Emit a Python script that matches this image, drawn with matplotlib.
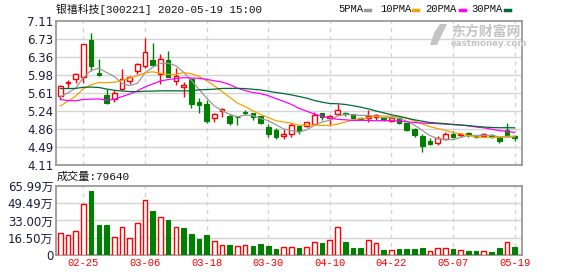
import numpy as np
import pandas as pd
import matplotlib
matplotlib.use('Agg')
import matplotlib.pyplot as plt
from matplotlib.patches import Polygon

# ── Data ──────────────────────────────────────────────────────────
dates = ["02-20", "02-21", "02-24", "02-25", "02-26", "02-27", "02-28",
         "03-02", "03-03", "03-04", "03-05", "03-06", "03-09", "03-10",
         "03-11", "03-12", "03-13", "03-16", "03-17", "03-18", "03-19",
         "03-20", "03-23", "03-24", "03-25", "03-26", "03-27", "03-30",
         "03-31", "04-01", "04-02", "04-03", "04-07", "04-08", "04-09",
         "04-10", "04-13", "04-14", "04-15", "04-16", "04-17", "04-20",
         "04-21", "04-22", "04-23", "04-24", "04-27", "04-28", "04-29",
         "04-30", "05-06", "05-07", "05-08", "05-11", "05-12", "05-13",
         "05-14", "05-15", "05-18", "05-19"]

opens = [5.56, 5.82, 5.90, 5.94, 6.72, 6.04, 5.57, 5.49, 5.69, 5.87,
         6.07, 6.18, 6.30, 6.02, 6.30, 5.86, 5.75, 5.91, 5.42, 5.38,
         5.10, 5.24, 5.14, 5.12, 5.22, 5.19, 5.13, 4.91, 4.84, 4.73,
         4.77, 4.93, 4.92, 4.98, 5.19, 5.10, 5.17, 5.19, 5.17, 5.10,
         5.10, 5.12, 5.09, 5.04, 5.09, 5.00, 4.86, 4.72, 4.61, 4.58,
         4.65, 4.76, 4.74, 4.79, 4.72, 4.72, 4.74, 4.70, 4.84, 4.72]
highs = [5.78, 5.88, 6.03, 6.63, 6.87, 6.32, 5.71, 5.68, 6.11, 5.97,
         6.24, 6.76, 6.66, 6.43, 6.49, 6.14, 5.85, 5.92, 5.52, 5.47,
         5.20, 5.30, 5.17, 5.13, 5.26, 5.20, 5.14, 4.98, 4.88, 4.86,
         4.99, 4.94, 5.02, 5.22, 5.20, 5.16, 5.38, 5.22, 5.18, 5.12,
         5.27, 5.17, 5.11, 5.10, 5.12, 5.00, 4.88, 4.77, 4.68, 4.72,
         4.80, 4.83, 4.78, 4.80, 4.73, 4.78, 4.76, 4.71, 5.00, 4.75]
lows = [5.49, 5.73, 5.82, 5.83, 6.07, 5.97, 5.39, 5.42, 5.68, 5.81,
        6.01, 6.13, 6.18, 5.80, 5.94, 5.78, 5.54, 5.31, 5.19, 5.00,
        5.01, 5.12, 4.95, 4.96, 5.15, 5.06, 4.97, 4.69, 4.66, 4.66,
        4.70, 4.77, 4.91, 4.94, 5.06, 4.92, 5.15, 5.14, 5.08, 5.06,
        5.01, 5.05, 5.04, 5.03, 4.98, 4.82, 4.70, 4.38, 4.53, 4.54,
        4.63, 4.68, 4.69, 4.69, 4.67, 4.69, 4.67, 4.58, 4.70, 4.61]
closes = [5.77, 5.84, 6.02, 6.63, 6.18, 5.99, 5.40, 5.61, 5.91, 5.94,
          6.23, 6.48, 6.20, 6.32, 5.95, 5.98, 5.79, 5.38, 5.37, 5.03,
          5.17, 5.29, 5.00, 5.11, 5.21, 5.12, 5.00, 4.76, 4.69, 4.77,
          4.95, 4.83, 5.01, 5.15, 5.12, 5.13, 5.27, 5.18, 5.10, 5.07,
          5.14, 5.15, 5.06, 5.09, 5.00, 4.84, 4.74, 4.52, 4.55, 4.67,
          4.76, 4.71, 4.77, 4.74, 4.69, 4.77, 4.70, 4.61, 4.72, 4.68]
# closes before the visible window (estimated so the MA lines start right)
pre_closes = [5.85, 5.90, 5.95, 6.05, 6.25, 6.35, 6.40, 6.35, 6.30, 6.30,
              6.20, 6.15, 6.10, 6.00, 5.95, 5.85, 5.30, 4.80, 4.85, 4.90,
              4.85, 4.95, 5.10, 5.35, 5.55, 5.40, 5.55, 5.50, 5.45]
# volume in 万
volumes = [21, 19, 23, 49, 61, 29, 29, 17.5, 26.7, 16.5,
           30.5, 52.7, 41.6, 36.2, 33, 27, 26.3, 20.6, 15.9, 19.7,
           13.7, 9.5, 9.8, 8.9, 9.5, 8.9, 10.8, 9.2, 6.3, 7.9,
           7.9, 7.3, 7.9, 12.4, 11.7, 14.6, 26.7, 12.7, 7.3, 7.3,
           14.3, 11.4, 5.4, 5.1, 6.0, 6.0, 6.0, 7.0, 4.1, 6.7,
           6.7, 6.0, 5.0, 4.1, 4.1, 3.7, 3.2, 7.0, 12.5, 7.964]

price_ticks = [4.11, 4.485, 4.86, 5.235, 5.61, 5.985, 6.36, 6.735, 7.11]
price_labels = ["4.11", "4.49", "4.86", "5.24", "5.61", "5.98", "6.36", "6.73", "7.11"]
vol_ticks = [0, 16.50, 33.00, 49.49, 65.99]
vol_labels = ["0", "16.50万", "33.00万", "49.49万", "65.99万"]
date_ticks = [3, 11, 19, 27, 35, 43, 51, 59]

ma_periods = [5, 10, 20, 30]
ma_colors = ["#999999", "#f5a100", "#ff00ff", "#006a35"]

# ── Derived ───────────────────────────────────────────────────────
n = len(closes)
x = np.arange(n)
o = np.array(opens); c = np.array(closes)
h = np.array(highs); l = np.array(lows)
all_close = pd.Series(pre_closes + closes)
mas = {p: all_close.rolling(p).mean().values[-n:] for p in ma_periods}
prev_close = np.array(all_close.shift(1).values[-n:])
up = c >= o
vol_up = c >= prev_close   # volume colour follows close vs previous close

RED = "#ff0000"
GREEN = "#008000"
FRAME = "#9a9a9a"
GRID = "#d4d4d4"
LABEL = "#1c1c3c"
CJK = ["DejaVu Sans", "Noto Sans CJK SC"]
MONO = ["Liberation Mono", "Noto Sans CJK SC"]

fig = plt.figure(figsize=(5.78, 2.76), dpi=100)
ax = fig.add_axes([56 / 578, 1 - 165.3 / 276, 466 / 578, 144 / 276])
axv = fig.add_axes([56 / 578, 1 - 255.3 / 276, 466 / 578, 69.6 / 276])

xlim = (-0.56, n - 0.04)
bw = 0.6

# ══ price panel ══════════════════════════════════════════════════
for yt in price_ticks[1:-1]:
    ax.axhline(yt, color=GRID, lw=1.0, zorder=0)
for xt in date_ticks:
    ax.axvline(xt, color=GRID, lw=1.0, ls=(0, (3, 3)), zorder=0)

top = np.maximum(o, c); bot = np.minimum(o, c)
body = np.maximum(top - bot, 0.008)
colors = np.where(up, RED, GREEN)
ax.vlines(x, top, h, colors=colors, lw=1.0, zorder=2)
ax.vlines(x, l, bot, colors=colors, lw=1.0, zorder=2)
ax.bar(x[up], body[up], bw, bottom=bot[up], facecolor="white",
       edgecolor=RED, lw=1.0, zorder=3)
ax.bar(x[~up], body[~up], bw, bottom=bot[~up], facecolor=GREEN,
       edgecolor=GREEN, lw=0.8, zorder=3)

for p, col in zip(ma_periods, ma_colors):
    ax.plot(x, mas[p], color=col, lw=0.9, zorder=4)

ax.set_xlim(*xlim)
ax.set_ylim(price_ticks[0], price_ticks[-1])
ax.set_yticks(price_ticks)
ax.set_yticklabels(price_labels, fontsize=8.5, color=LABEL)
ax.set_xticks([])

# ══ volume panel ═════════════════════════════════════════════════
for yt in vol_ticks[1:-1]:
    axv.axhline(yt, color=GRID, lw=1.0, zorder=0)
for xt in date_ticks:
    axv.axvline(xt, color=GRID, lw=1.0, ls=(0, (3, 3)), zorder=0)

v = np.array(volumes)
axv.bar(x[vol_up], v[vol_up], bw, facecolor="white", edgecolor=RED,
        lw=1.0, zorder=3)
axv.bar(x[~vol_up], v[~vol_up], bw, facecolor=GREEN, edgecolor=GREEN,
        lw=0.8, zorder=3)
axv.set_xlim(*xlim)
axv.set_ylim(vol_ticks[0], vol_ticks[-1])
axv.set_yticks(vol_ticks)
axv.set_yticklabels(vol_labels, fontsize=8.5, color=LABEL, family=CJK)
axv.set_xticks(date_ticks)
axv.set_xticklabels([dates[i] for i in date_ticks], color=RED,
                    fontsize=7.6, family=MONO)

for a in (ax, axv):
    for s in a.spines.values():
        s.set_color(FRAME)
        s.set_linewidth(1.3)
    a.tick_params(length=0, pad=2)

# ── texts ─────────────────────────────────────────────────────────
fig.text(56 / 578, 1 - 9.5 / 276, "银禧科技[300221] 2020-05-19 15:00",
         family=MONO, fontsize=7.8, color="#111111", va="center", ha="left")
fig.text(57 / 578, 1 - 177 / 276, f"成交量:{round(volumes[-1] * 1e4)}",
         family=MONO, fontsize=8, color="#111111", va="center", ha="left")

# legend: name + short coloured dash
leg_x = [338, 380, 425, 471]
dash_x = [365, 413, 460, 505]
for p, col, tx, dx in zip(ma_periods, ma_colors, leg_x, dash_x):
    fig.text(tx / 578, 1 - 9.5 / 276, f"{p}PMA", family=MONO, fontsize=7.6,
             color="#111111", va="center", ha="left")
    fig.add_artist(plt.Line2D([dx / 578, (dx + 5) / 578],
                              [1 - 10 / 276, 1 - 10 / 276],
                              color=col, lw=2.5, transform=fig.transFigure))

# eastmoney watermark
wm = "#c4c4c4"
fig.text(451 / 578, 1 - 32 / 276, "东方财富网", family=["Noto Sans CJK SC"],
         fontsize=10, fontweight="bold", color=wm, va="center", ha="left")
fig.text(451 / 578, 1 - 43.5 / 276, "eastmoney.com", family=["DejaVu Sans"],
         fontsize=6.2, fontweight="bold", color=wm, va="center", ha="left")
logo = Polygon([[440 / 578, 1 - 24 / 276], [447 / 578, 1 - 24 / 276],
                [437 / 578, 1 - 45 / 276], [430 / 578, 1 - 45 / 276],
                [434 / 578, 1 - 33 / 276]],
               closed=True, facecolor=wm, edgecolor="none",
               transform=fig.transFigure)
fig.add_artist(logo)

fig.savefig("out.png", dpi=100)
